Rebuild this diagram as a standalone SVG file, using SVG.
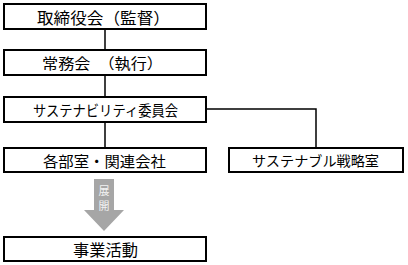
<svg xmlns="http://www.w3.org/2000/svg" width="408" height="265" viewBox="0 0 408 265">
<style>
.box{fill:#fff;stroke:#000;stroke-width:2}
.t{font-family:"Noto Sans CJK JP","Noto Sans CJK SC",sans-serif;fill:#000;dominant-baseline:central}
.ln{fill:none;stroke:#000;stroke-width:1.5}
.at{font-family:"Noto Sans CJK JP","Noto Sans CJK SC",sans-serif;font-size:11px;fill:#f2f2f2;text-anchor:middle;dominant-baseline:central}
</style>
<rect width="408" height="265" fill="#fff"/>
<g id="connectors">
<path class="ln" d="M105,29 V49 M105,75 V97 M105,122 V148 M206,109 H316 V148"/>
</g>
<g id="n1"><rect class="box" x="4" y="4" width="202" height="25"/><text class="t" x="37" y="16.5" font-size="16" textLength="133" lengthAdjust="spacingAndGlyphs">取締役会（監督）</text></g>
<g id="n2"><rect class="box" x="4" y="50" width="202" height="25"/><text class="t" x="42" y="62.5" font-size="15" textLength="121" lengthAdjust="spacingAndGlyphs">常務会　（執行）</text></g>
<g id="n3"><rect class="box" x="4" y="97" width="202" height="25"/><text class="t" x="33" y="109.5" font-size="14.5" textLength="145" lengthAdjust="spacingAndGlyphs">サステナビリティ委員会</text></g>
<g id="n4"><rect class="box" x="4" y="148" width="202" height="24"/><text class="t" x="43" y="160" font-size="15" textLength="123" lengthAdjust="spacingAndGlyphs">各部室・関連会社</text></g>
<g id="n5"><rect class="box" x="229" y="148" width="174" height="24"/><text class="t" x="252" y="160" font-size="14" textLength="127" lengthAdjust="spacingAndGlyphs">サステナブル戦略室</text></g>
<g id="arrow"><polygon points="94,179 114,179 114,210 124,210 104,231 84,210 94,210" fill="#a6a6a6"/><text class="at" x="104" y="189.5">展</text><text class="at" x="104" y="205">開</text></g>
<g id="n6"><rect class="box" x="4" y="237" width="202" height="24"/><text class="t" x="73" y="249" font-size="16" textLength="65" lengthAdjust="spacingAndGlyphs">事業活動</text></g>
</svg>
